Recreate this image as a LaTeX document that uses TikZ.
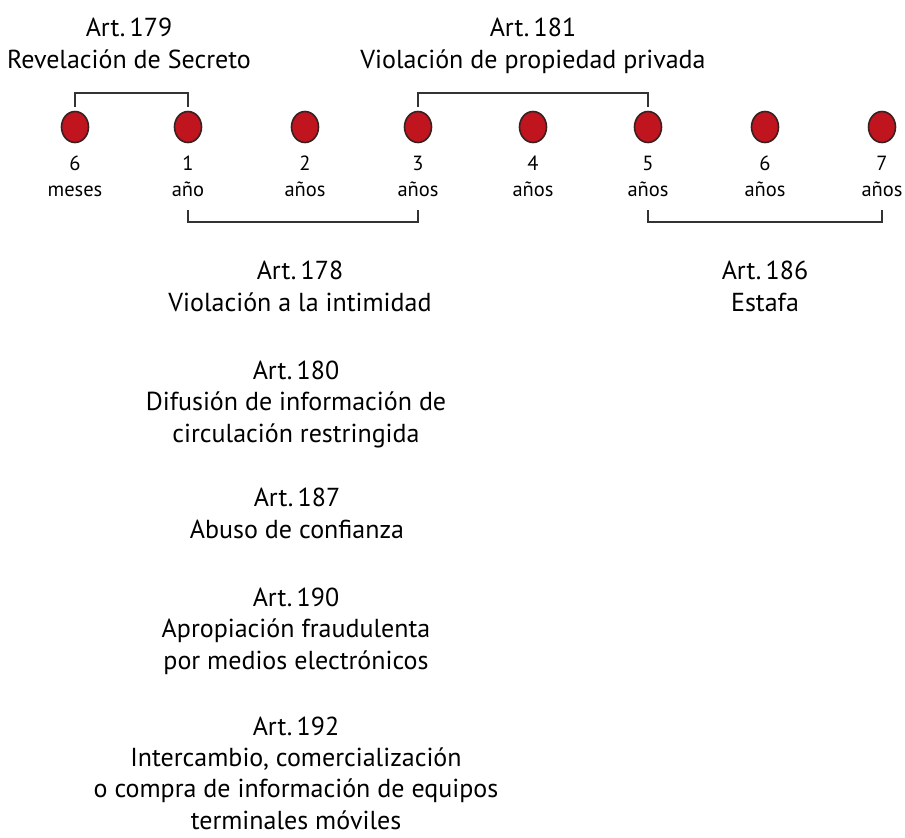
\documentclass[tikz,border=0pt]{standalone}
\usepackage{fontspec}
\setmainfont{PT Sans}
\usetikzlibrary{shapes.geometric}
\definecolor{dotred}{HTML}{C0141F}
\definecolor{dotline}{HTML}{3A2020}
\definecolor{linegray}{HTML}{333333}
\begin{document}
\begin{tikzpicture}[x=1pt,y=-1pt,
  dot/.style={ellipse,minimum width=27pt,minimum height=31pt,inner sep=0pt,fill=dotred,draw=dotline,line width=1.6pt},
  small/.style={align=center,anchor=base,inner sep=0pt,font=\fontsize{20.5}{26}\selectfont},
  big/.style={align=center,anchor=base,inner sep=0pt,font=\fontsize{26}{31.3}\selectfont},
  brk/.style={draw=linegray,line width=1.6pt}]
\useasboundingbox (0,0) rectangle (905,838);
\foreach \i/\x in {0/75,1/188,2/305,3/418,4/533,5/648,6/765,7/882}{
  \node[dot] (d\i) at (\x,127) {};
}
\node[small] (l0) at (75,196) {6\\meses};
\node[small] (l1) at (188,196) {1\\año};
\node[small] (l2) at (305,196) {2\\años};
\node[small] (l3) at (418,196) {3\\años};
\node[small] (l4) at (533,196) {4\\años};
\node[small] (l5) at (648,196) {5\\años};
\node[small] (l6) at (765,196) {6\\años};
\node[small] (l7) at (882,196) {7\\años};

\node[big] (a179) at (129,68) {Art.\,179\\Revelación de Secreto};
\node[big] (a181) at (533,68) {Art.\,181\\Violación de propiedad privada};
\node[big] (a178) at (300,311) {Art.\,178\\Violación a la intimidad};
\node[big] (a186) at (765,311) {Art.\,186\\Estafa};
\node[big] (a180) at (296,442) {Art.\,180\\Difusión de información de\\circulación restringida};
\node[big] (a187) at (297,538) {Art.\,187\\Abuso de confianza};
\node[big] (a190) at (296,669) {Art.\,190\\Apropiación fraudulenta\\por medios electrónicos};
\node[big] (a192) at (296,829) {Art.\,192\\Intercambio, comercialización\\o compra de información de equipos\\terminales móviles};

\draw[brk] ([yshift=4pt]d0.north) -- ++(0,-14) -| ([yshift=4pt]d1.north);
\draw[brk] ([yshift=4pt]d3.north) -- ++(0,-14) -| ([yshift=4pt]d5.north);
\draw[brk] ([yshift=-14pt]l1.base) -- ++(0,12) -| ([yshift=-14pt]l3.base);
\draw[brk] ([yshift=-14pt]l5.base) -- ++(0,12) -| ([yshift=-14pt]l7.base);
\end{tikzpicture}
\end{document}
